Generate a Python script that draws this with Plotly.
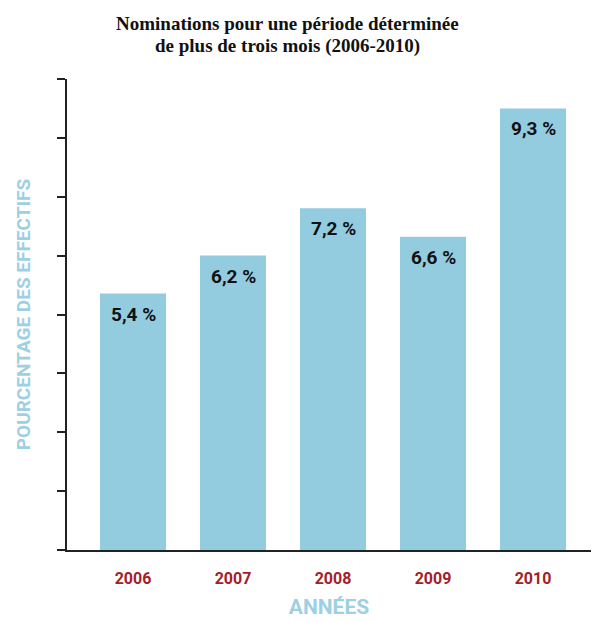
import plotly.graph_objects as go

years = ["2006", "2007", "2008", "2009", "2010"]
values = [5.4, 6.2, 7.2, 6.6, 9.3]
labels = ["5,4 %", "6,2 %", "7,2 %", "6,6 %", "9,3 %"]
title_lines = ["Nominations pour une période déterminée", "de plus de trois mois (2006-2010)"]

BAR = "#93CBDF"
RED = "#A3202A"
LIGHT = "#9DD0E2"
COND = "Roboto, Liberation Sans, sans-serif"
SERIF = "Liberation Serif, Times New Roman, serif"

fig = go.Figure()
fig.add_trace(go.Bar(x=list(range(len(years))), y=values, marker_color=BAR,
                     marker_line_width=0, width=0.66, hoverinfo="skip"))

for i, (v, t) in enumerate(zip(values, labels)):
    fig.add_annotation(x=i, y=v, text="<b>" + t + "</b>", showarrow=False,
                       yanchor="top", yshift=-7,
                       font=dict(family=COND, size=19, color="#111111"))

for line, shift in zip(title_lines, [55.5, 33.5]):
    fig.add_annotation(xref="paper", yref="paper", x=0.42, y=1, yshift=shift,
                       xanchor="center", yanchor="middle", showarrow=False,
                       text="<b>" + line + "</b>",
                       font=dict(family=SERIF, size=19, color="#111111"))

fig.update_layout(
    width=592, height=623,
    margin=dict(l=67, r=1, t=79, b=73),
    paper_bgcolor="white", plot_bgcolor="white",
    showlegend=False,
    xaxis=dict(range=[-0.66, 4.58], tickvals=list(range(len(years))), ticktext=["<b>" + y + "</b>" for y in years],
               showgrid=False, zeroline=False, showline=True, linecolor="#222222", linewidth=1.5,
               ticks="", ticklabelstandoff=13,
               tickfont=dict(family=COND, size=16, color=RED),
               title=dict(text="<b>ANNÉES</b>", standoff=12,
                          font=dict(family=COND, size=21, color=LIGHT))),
    yaxis=dict(range=[0, 9.92], tickvals=[9.92 * i / 8 for i in range(9)], showticklabels=False,
               showgrid=False, zeroline=False, showline=True, linecolor="#222222", linewidth=1.5,
               ticks="outside", ticklen=8, tickwidth=1.5, tickcolor="#222222",
               title=dict(text="<b>POURCENTAGE DES EFFECTIFS</b>", standoff=22,
                          font=dict(family=COND, size=19, color=LIGHT))),
)

fig.write_html("out.html")
